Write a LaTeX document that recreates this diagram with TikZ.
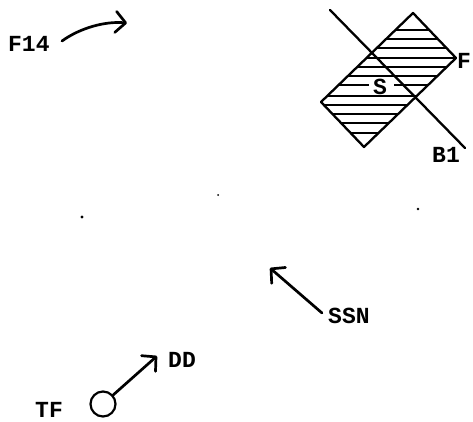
\documentclass[tikz,border=0pt]{standalone}
\usepackage{fontspec}
\setmonofont{Liberation Mono}
\usetikzlibrary{arrows.meta}
\begin{document}
\begin{tikzpicture}[x=1pt,y=-1pt,
  lbl/.style={font=\fontsize{23}{27}\selectfont\ttfamily\bfseries, inner sep=0pt},
  stroke/.style={line width=2.7pt, line cap=round, line join=round},
  barb/.style={stroke, -{Straight Barb[length=10pt,width=21pt,line width=2.7pt,round]}},
  outline/.style={line width=2.3pt, line join=round},
  hatch/.style={line width=2pt},
  dot/.style={fill=black}
]
\useasboundingbox (0,0) rectangle (473,422);

% labels
\node[lbl, anchor=base west] (f14) at (8,52) {F14};
\node[lbl, anchor=base west] (ssn) at (328,323) {SSN};
\node[lbl, anchor=base west] (dd) at (168,367) {DD};
\node[lbl, anchor=base west] (tf) at (35,417) {TF};
\node[lbl, anchor=base west] (b1) at (432,162) {B1};
\node[lbl, anchor=base west] (f) at (457,69) {F};

% hatched rectangle
\coordinate (rt) at (413,13);
\coordinate (rr) at (456,58);
\coordinate (rb) at (364,147);
\coordinate (rl) at (321,102);
\begin{scope}
  \clip (rt) -- (rr) -- (rb) -- (rl) -- cycle;
  \foreach \y in {30,39.24,48.48,57.72,66.96,76.2,95.68,104.92,114.16,123.4,132.64}
    \draw[hatch] (300,\y) -- (480,\y);
  \draw[hatch] (300,85.44) -- (369,85.44);
  \draw[hatch] (394,85.44) -- (480,85.44);
\end{scope}
\draw[outline] (rt) -- (rr) -- (rb) -- (rl) -- cycle;
\node[lbl, anchor=base] (s) at (380,95) {S};

% B1 line
\coordinate (b1a) at (330,10);
\coordinate (b1b) at (465,148);
\draw[stroke, line width=2.3pt] (b1a) -- (b1b);

% F14 arrow
\coordinate (f14s) at (62,41);
\coordinate (f14e) at (127,23);
\draw[barb] (f14s) .. controls (80,28) and (105,21) .. (f14e);

% SSN arrow
\coordinate (ssns) at (322,313);
\coordinate (ssne) at (270,268);
\draw[barb] (ssns) -- (ssne);

% TF circle and DD arrow
\node[draw, circle, line width=2.2pt, minimum size=25pt, inner sep=0pt] (tfc) at (103,404) {};
\coordinate (dde) at (157,356);
\draw[barb] (tfc) -- (dde);

% dots
\fill[dot] (82,217) circle (1.6);
\fill[dot] (218,195) circle (1.0);
\fill[dot] (418,209) circle (1.3);
\end{tikzpicture}
\end{document}
